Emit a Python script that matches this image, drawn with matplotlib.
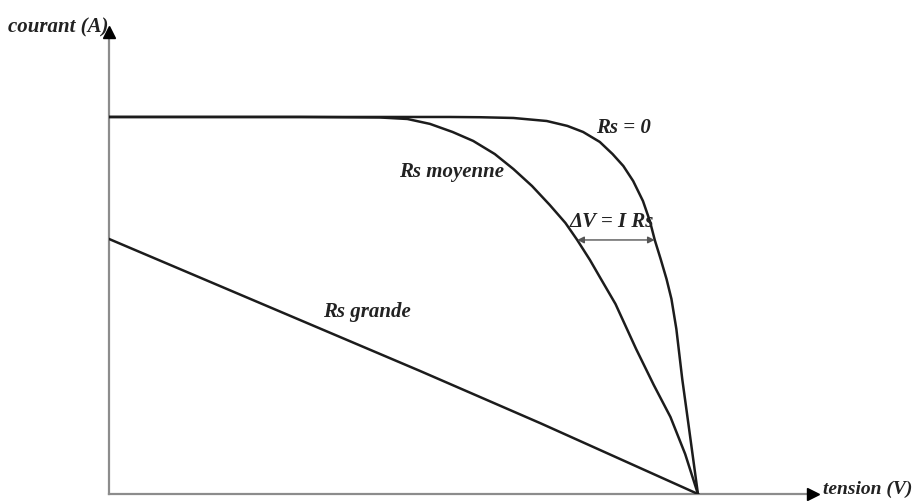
import matplotlib.pyplot as plt
import numpy as np

# courbes I(V) (V en volts, I en amperes, echelle arbitraire)
v_rs0 = [0.0, 0.347, 0.378, 0.412, 0.446, 0.467, 0.483, 0.500, 0.513, 0.524, 0.534,
         0.544, 0.551, 0.556, 0.562, 0.568, 0.573, 0.578, 0.584, 0.591, 0.600]
i_rs0 = [2.992, 2.992, 2.990, 2.984, 2.960, 2.921, 2.873, 2.794, 2.698, 2.603, 2.484,
         2.325, 2.167, 2.016, 1.865, 1.706, 1.548, 1.310, 0.913, 0.516, 0.0]

v_rsmoy = [0.0, 0.195, 0.276, 0.304, 0.327, 0.350, 0.371, 0.393, 0.412, 0.431, 0.449,
           0.465, 0.477, 0.490, 0.500, 0.516, 0.537, 0.555, 0.572, 0.587, 0.600]
i_rsmoy = [2.992, 2.992, 2.988, 2.976, 2.937, 2.873, 2.802, 2.698, 2.579, 2.444, 2.294,
           2.151, 2.016, 1.857, 1.722, 1.508, 1.151, 0.865, 0.611, 0.317, 0.0]

v_rsgrande = [0.0, 0.317, 0.440, 0.600]
i_rsgrande = [2.024, 0.976, 0.560, 0.0]

i_delta = 2.016  # niveau de la fleche delta V

plt.rcParams['font.family'] = ['Liberation Serif', 'DejaVu Serif']

fig = plt.figure(figsize=(9.18, 5.02), dpi=100)
ax = fig.add_axes([109 / 918, 7 / 502, 708 / 918, 467 / 502])
ax.set_xlim(0, 0.7213)
ax.set_ylim(0, 3.706)
ax.axis('off')

# axes avec fleches
axc = '#8c8c8c'
ax.plot([0, 0.995], [0, 0], color=axc, lw=1.6, transform=ax.transAxes, clip_on=False)
ax.plot([0, 0], [0, 0.99], color=axc, lw=1.6, transform=ax.transAxes, clip_on=False)
ax.plot([0.995], [0], marker='>', color='black', ms=8, transform=ax.transAxes, clip_on=False)
ax.plot([0], [0.99], marker='^', color='black', ms=8, transform=ax.transAxes, clip_on=False)

lc = '#1c1c1c'
ax.plot(v_rs0, i_rs0, color=lc, lw=1.8, solid_joinstyle='round')
ax.plot(v_rsmoy, i_rsmoy, color=lc, lw=1.8, solid_joinstyle='round')
ax.plot(v_rsgrande, i_rsgrande, color=lc, lw=1.8, solid_joinstyle='round')

# fleche delta V entre les deux courbes
x_left = np.interp(i_delta, i_rsmoy[::-1], v_rsmoy[::-1])
x_right = np.interp(i_delta, i_rs0[::-1], v_rs0[::-1])
ax.annotate('', xy=(x_right, i_delta), xytext=(x_left, i_delta),
            arrowprops=dict(arrowstyle='<|-|>', color='#555555', lw=1.0,
                            mutation_scale=10, shrinkA=0, shrinkB=0))

tf = dict(fontsize=15, fontweight='bold', fontstyle='italic', color='#222222')
ax.text(0.524, 2.91, 'Rs = 0', ha='center', va='center', **tf)
ax.text(0.349, 2.56, 'Rs moyenne', ha='center', va='center', **tf)
ax.text(0.512, 2.17, 'ΔV = I Rs', ha='center', va='center', **tf)
ax.text(0.263, 1.45, 'Rs grande', ha='center', va='center', **tf)

fig.text(8 / 918, 1 - 27 / 502, 'courant (A)', ha='left', va='center', **tf)
tf2 = dict(tf, fontsize=14)
fig.text(823 / 918, 1 - 489 / 502, 'tension (V)', ha='left', va='center', **tf2)

fig.savefig('out.png', dpi=100)
